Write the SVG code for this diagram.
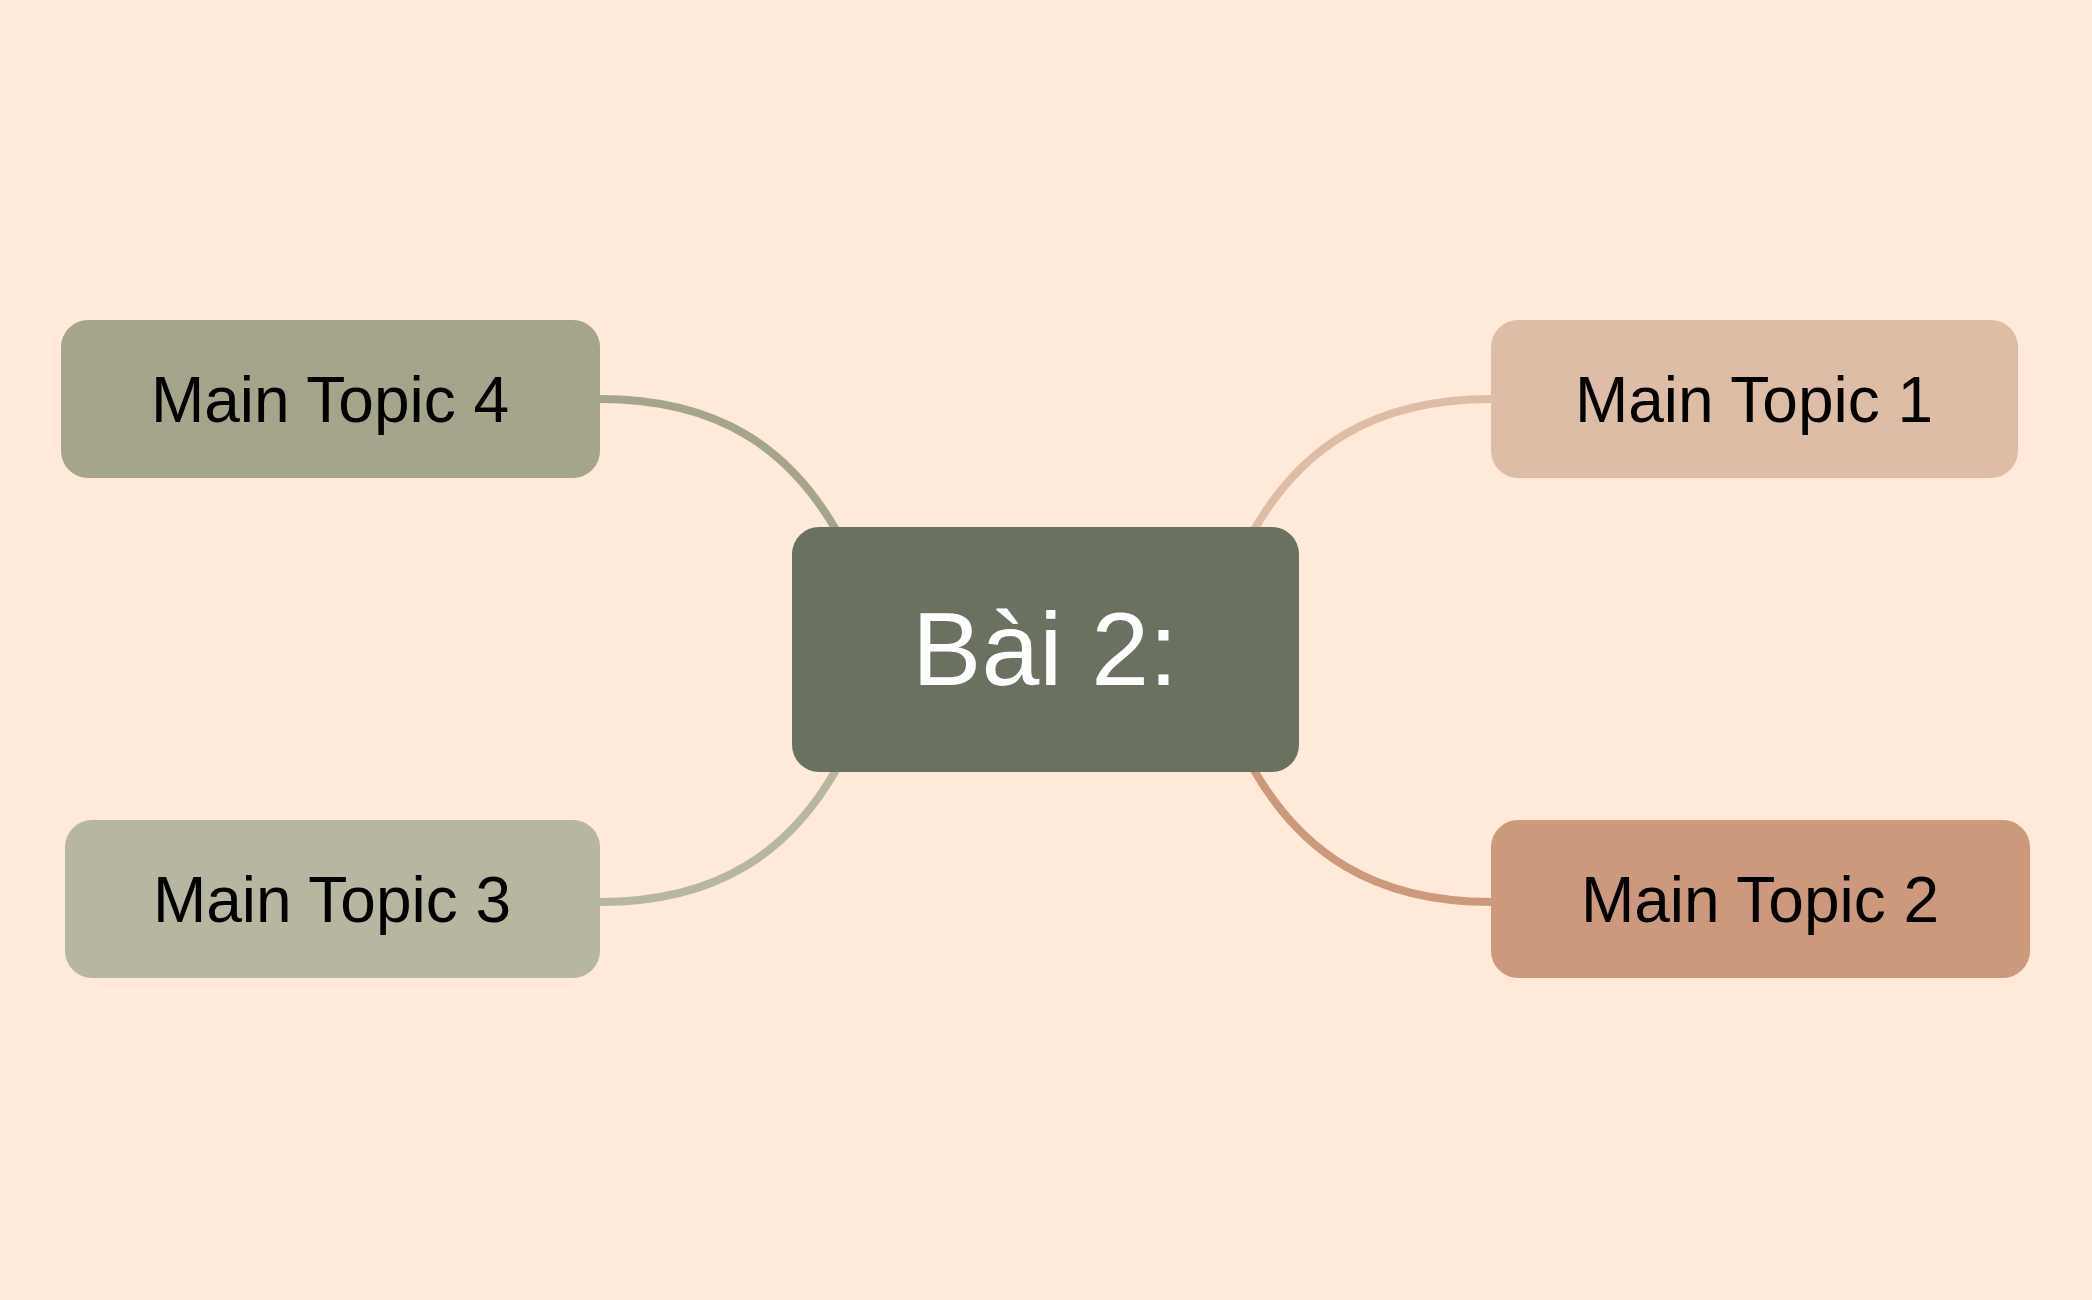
<svg xmlns="http://www.w3.org/2000/svg" width="2092" height="1300" viewBox="0 0 2092 1300">
<style>
.t{font-family:"Liberation Sans",Arial,sans-serif;font-size:64px;fill:#000;text-anchor:middle;dominant-baseline:central}
.c{fill:none;stroke-width:8}
</style>
<rect width="2092" height="1300" fill="#FFE9D9"/>
<g id="connectors">
<path class="c" stroke="#A5A58C" d="M600,399 C720,399 790,450 836,530"/>
<path class="c" stroke="#DEBDA6" d="M1491,399 C1371,399 1300,450 1254,530"/>
<path class="c" stroke="#B7B6A1" d="M600,902 C720,902 790,850 836,770"/>
<path class="c" stroke="#CC997D" d="M1491,902 C1371,902 1300,850 1254,770"/>
</g>
<g id="center"><rect x="792" y="527" width="507" height="245" rx="27" fill="#6B7160"/><text class="t" x="1045" y="649" style="font-size:104px;fill:#fff">Bài 2:</text></g>
<g id="topic4"><rect x="61" y="320" width="539" height="158" rx="27" fill="#A5A58C"/><text class="t" x="330" y="400">Main Topic 4</text></g>
<g id="topic1"><rect x="1491" y="320" width="527" height="158" rx="27" fill="#DEBDA6"/><text class="t" x="1754" y="400">Main Topic 1</text></g>
<g id="topic3"><rect x="65" y="820" width="535" height="158" rx="27" fill="#B7B6A1"/><text class="t" x="332" y="900">Main Topic 3</text></g>
<g id="topic2"><rect x="1491" y="820" width="539" height="158" rx="27" fill="#CC997D"/><text class="t" x="1760" y="900">Main Topic 2</text></g>
</svg>
